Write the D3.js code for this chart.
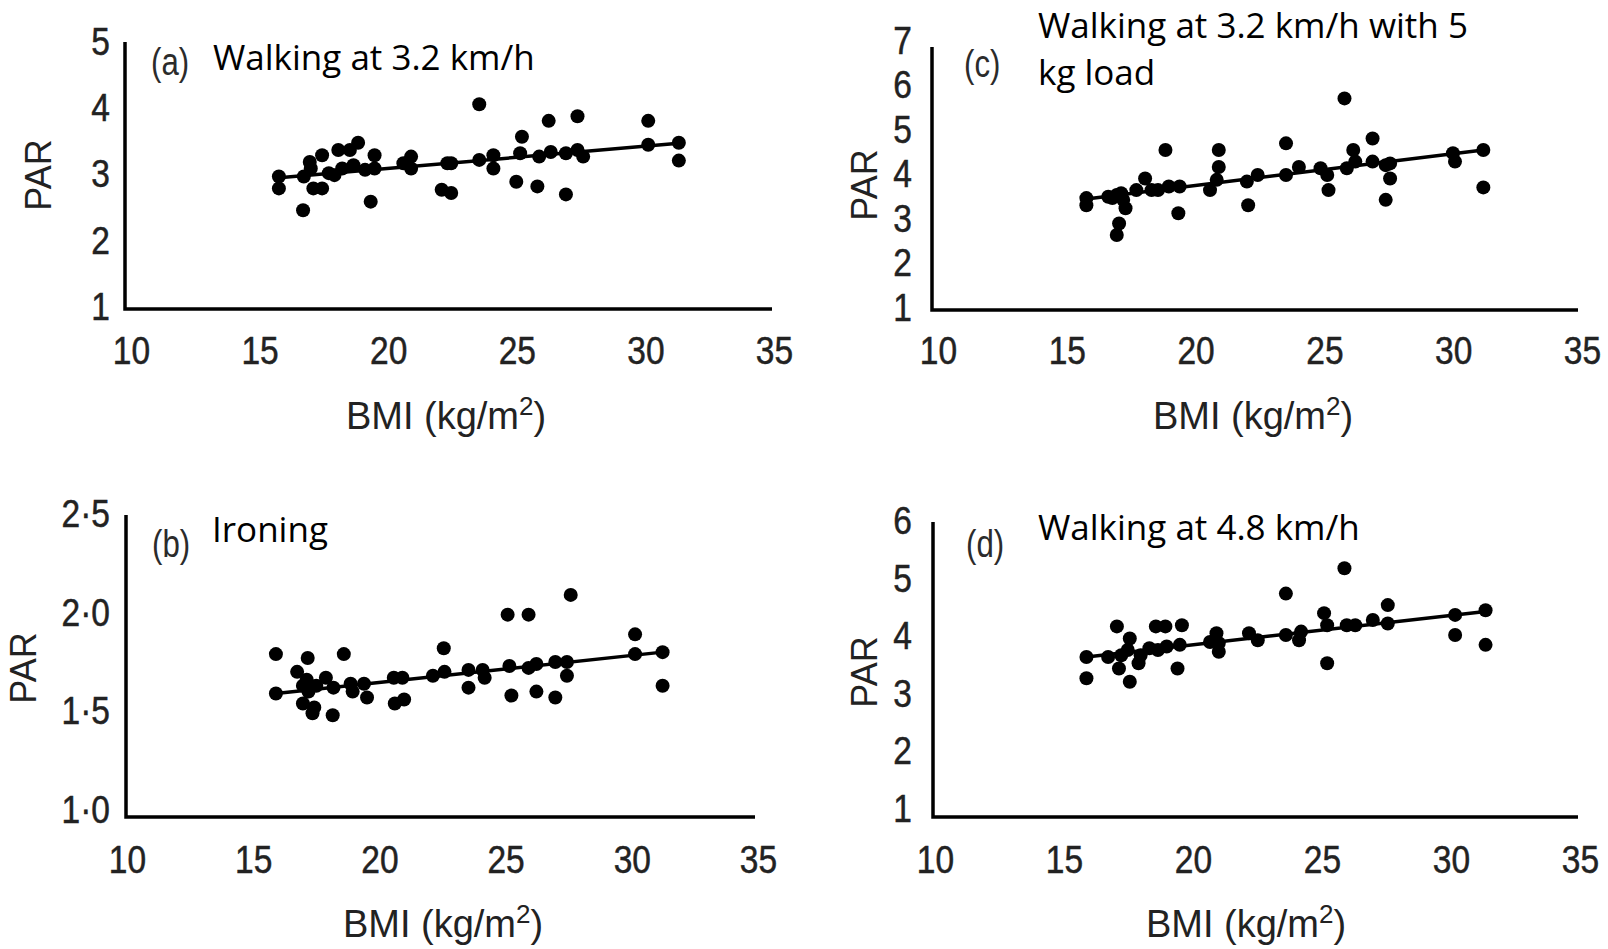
<!DOCTYPE html>
<html>
<head>
<meta charset="utf-8">
<script src="https://cdn.jsdelivr.net/npm/d3@7/dist/d3.min.js"></script>
<style>
  body { margin: 0; background: #fff; }
  svg { display: block; }
  .tick text { font-family: "Liberation Sans", Arial, sans-serif; font-size: 39px; fill: #222; stroke: #222; stroke-width: 0.5px; }
</style>
</head>
<body>
<svg id="fig" width="1608" height="949"></svg>
<script>
// ---- data ----
var xTicks = [10, 15, 20, 25, 30, 35];
var yTicksA = [1, 2, 3, 4, 5];
var yTicksB = [1.0, 1.5, 2.0, 2.5];
var yTicksC = [1, 2, 3, 4, 5, 6, 7];
var yTicksD = [1, 2, 3, 4, 5, 6];

// (a) walking 3.2 km/h  [BMI, PAR]
var pointsA = [[15.75,2.97],[15.75,2.79],[16.69,2.46],[16.72,2.97],[16.95,3.19],[16.99,3.09],[17.09,2.79],
  [17.43,2.79],[17.43,3.29],[17.69,3.02],[17.91,2.99],[18.06,3.37],[18.21,3.09],[18.51,3.37],[18.65,3.14],
  [18.83,3.48],[19.10,3.07],[19.32,2.59],[19.47,3.29],[19.47,3.09],[20.59,3.17],[20.89,3.27],[20.89,3.09],
  [22.08,2.77],[22.30,3.17],[22.45,2.72],[22.45,3.17],[23.54,4.06],[23.54,3.22],[24.09,3.29],[24.09,3.09],
  [24.98,2.89],[25.13,3.32],[25.20,3.57],[25.80,2.82],[25.87,3.27],[26.24,3.81],[26.32,3.34],[26.91,2.70],
  [26.91,3.32],[27.36,3.88],[27.36,3.37],[27.58,3.27],[30.11,3.81],[30.11,3.45],[31.30,3.48],[31.30,3.21]];
var fitA = [[15.75,2.95],[31.30,3.47]];

// (b) ironing
var pointsB = [[15.90,1.79],[15.90,1.59],[16.74,1.70],[16.97,1.63],[16.97,1.54],[17.12,1.66],[17.16,1.77],
  [17.19,1.60],[17.35,1.49],[17.42,1.52],[17.50,1.63],[17.88,1.67],[18.15,1.48],[18.18,1.62],[18.59,1.79],
  [18.86,1.64],[18.94,1.60],[19.39,1.64],[19.51,1.57],[20.57,1.67],[20.61,1.54],[20.91,1.67],[20.98,1.56],
  [22.12,1.68],[22.55,1.82],[22.58,1.70],[23.53,1.71],[23.53,1.62],[24.09,1.71],[24.17,1.67],[25.08,1.99],
  [25.15,1.73],[25.23,1.58],[25.91,1.99],[25.91,1.72],[26.22,1.60],[26.22,1.74],[26.97,1.57],[26.97,1.75],
  [27.43,1.75],[27.43,1.68],[27.58,2.09],[30.13,1.89],[30.13,1.79],[31.22,1.80],[31.22,1.63]];
var fitB = [[15.90,1.59],[31.22,1.80]];

// (c) walking 3.2 km/h with 5 kg load
var pointsC = [[15.76,3.47],[15.76,3.31],[16.61,3.50],[16.77,3.47],[16.94,3.54],[17.03,2.90],[16.94,2.64],
  [17.11,3.58],[17.19,3.43],[17.28,3.24],[17.70,3.65],[18.04,3.91],[18.29,3.65],[18.54,3.65],[18.83,4.55],
  [18.96,3.73],[19.33,3.13],[19.38,3.73],[20.56,3.65],[20.82,3.88],[20.90,4.17],[20.90,4.55],[21.99,3.84],
  [22.04,3.31],[22.41,3.99],[23.51,4.70],[23.51,3.99],[24.01,4.17],[24.85,4.14],[25.11,3.99],[25.16,3.65],
  [25.78,5.71],[25.87,4.14],[26.12,4.55],[26.20,4.29],[26.87,4.81],[26.87,4.29],[27.38,4.21],[27.38,3.43],
  [27.55,3.91],[27.55,4.25],[29.99,4.48],[30.07,4.29],[31.17,4.55],[31.17,3.71]];
var fitC = [[15.76,3.45],[31.17,4.55]];

// (d) walking 4.8 km/h
var pointsD = [[15.87,3.64],[15.87,3.27],[16.71,3.64],[17.05,4.17],[17.13,3.44],[17.22,3.67],[17.47,3.76],
  [17.55,3.96],[17.55,3.21],[17.89,3.53],[17.97,3.67],[18.31,3.79],[18.56,4.17],[18.64,3.76],[18.93,4.17],
  [18.98,3.82],[19.40,3.44],[19.49,3.85],[19.57,4.19],[20.66,3.90],[20.91,4.05],[21.00,3.73],[21.00,3.88],
  [22.17,4.05],[22.51,3.93],[23.60,4.74],[23.60,4.02],[24.11,3.93],[24.19,4.08],[25.08,4.40],[25.20,4.19],
  [25.20,3.53],[25.87,5.18],[25.96,4.19],[26.29,4.19],[26.97,4.28],[27.55,4.54],[27.55,4.22],[30.16,4.37],
  [30.16,4.02],[31.34,4.45],[31.34,3.85]];
var fitD = [[15.87,3.64],[31.34,4.43]];

var svg = d3.select("#fig");

function drawPanel(o){
  var g = svg.append("g");
  var x = d3.scaleLinear().domain([10, 35]).range(o.xr);
  var y = d3.scaleLinear().domain([o.yTicks[0], o.yTicks[o.yTicks.length-1]]).range(o.yr);

  // axis lines (L shape)
  g.append("path")
    .attr("d", "M" + o.ax + "," + o.top + "V" + o.bottom + "H" + o.right)
    .attr("fill", "none").attr("stroke", "#000").attr("stroke-width", 3.5);

  // tick labels only, squeezed a bit like the condensed face of the original
  var xa = g.append("g").attr("transform", "translate(0," + o.xlab + ")")
    .call(d3.axisBottom(x).tickValues(xTicks).tickSize(0).tickPadding(0));
  xa.select(".domain").remove();
  xa.selectAll(".tick text").attr("transform", "scale(0.86,1)");

  var ya = g.append("g").attr("transform", "translate(" + o.ylab + ",0)")
    .call(d3.axisLeft(y).tickValues(o.yTicks).tickSize(0).tickPadding(0).tickFormat(o.fmt));
  ya.select(".domain").remove();
  ya.selectAll(".tick text").attr("transform", "scale(0.86,1)");

  // points
  g.selectAll("circle").data(o.points).enter().append("circle")
    .attr("cx", function(d){ return x(d[0]); })
    .attr("cy", function(d){ return y(d[1]); })
    .attr("r", 7).attr("fill", "#000");

  // fitted line
  g.append("path").datum(o.fit)
    .attr("d", d3.line().x(function(d){ return x(d[0]); }).y(function(d){ return y(d[1]); }))
    .attr("fill", "none").attr("stroke", "#000").attr("stroke-width", 3.5);

  // axis titles
  g.append("text")
    .attr("transform", "translate(" + o.parX + "," + o.parY + ") rotate(-90)")
    .attr("text-anchor", "middle")
    .style("font-family", "Liberation Sans, Arial, sans-serif").style("font-size", "36px").style("fill", "#222")
    .text("PAR");

  var bmi = g.append("text")
    .attr("x", o.bmiX).attr("y", o.bmiY)
    .attr("text-anchor", "middle")
    .style("font-family", "Liberation Sans, Arial, sans-serif").style("font-size", "38px").style("fill", "#222");
  bmi.append("tspan").text("BMI (kg/m");
  bmi.append("tspan").attr("dy", -14).style("font-size", "26px").text("2");
  bmi.append("tspan").attr("dy", 14).text(")");

  // panel letter and caption
  g.append("text").attr("transform", "translate(" + o.letX + "," + o.letY + ") scale(0.8,1)")
    .style("font-family", "Liberation Sans, Arial, sans-serif").style("font-size", "39px").style("fill", "#2b2b2b")
    .text(o.letter);

  o.caption.forEach(function(line, i){
    g.append("text").attr("x", o.capX).attr("y", o.capY + i * 47)
      .style("font-family", "Open Sans, sans-serif").style("font-size", "35px").style("fill", "#000")
      .text(line);
  });
}

var dot = function(d){ return d3.format(".1f")(d).replace(".", "\u00b7"); };

drawPanel({ points: pointsA, fit: fitA, yTicks: yTicksA, fmt: d3.format("d"),
  ax: 125, top: 42, bottom: 309, right: 772, xr: [131, 774], yr: [307, 42],
  xlab: 336, ylab: 110, parX: 51, parY: 175, bmiX: 446, bmiY: 429,
  letter: "(a)", letX: 151, letY: 75, caption: ["Walking at 3.2 km/h"], capX: 213, capY: 70 });

drawPanel({ points: pointsC, fit: fitC, yTicks: yTicksC, fmt: d3.format("d"),
  ax: 932, top: 47, bottom: 310, right: 1578, xr: [938, 1582], yr: [308, 41],
  xlab: 336, ylab: 912, parX: 877, parY: 185, bmiX: 1253, bmiY: 429,
  letter: "(c)", letX: 964, letY: 77, caption: ["Walking at 3.2 km/h with 5", "kg load"], capX: 1038, capY: 38 });

drawPanel({ points: pointsB, fit: fitB, yTicks: yTicksB, fmt: dot,
  ax: 126, top: 515, bottom: 817, right: 755, xr: [127, 758], yr: [810, 514],
  xlab: 845, ylab: 110, parX: 36, parY: 668, bmiX: 443, bmiY: 937,
  letter: "(b)", letX: 152, letY: 557, caption: ["Ironing"], capX: 212, capY: 542 });

drawPanel({ points: pointsD, fit: fitD, yTicks: yTicksD, fmt: d3.format("d"),
  ax: 933, top: 522, bottom: 817, right: 1578, xr: [935, 1580], yr: [809, 521],
  xlab: 845, ylab: 912, parX: 877, parY: 672, bmiX: 1246, bmiY: 937,
  letter: "(d)", letX: 966, letY: 557, caption: ["Walking at 4.8 km/h"], capX: 1038, capY: 540 });
</script>
</body>
</html>
